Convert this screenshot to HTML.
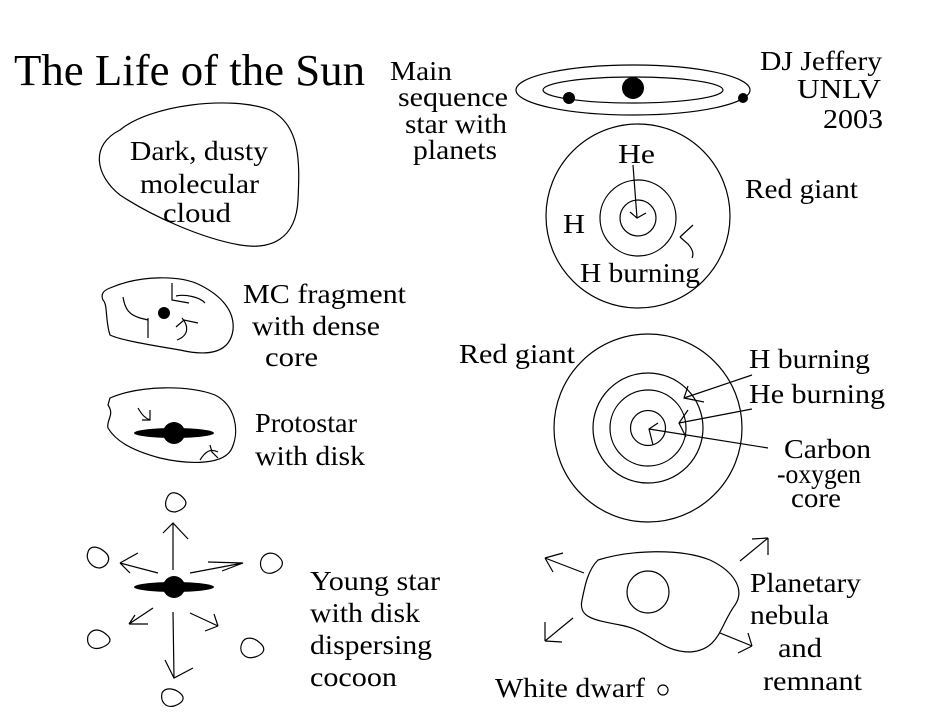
<!DOCTYPE html>
<html><head><meta charset="utf-8"><style>
html,body{margin:0;padding:0;background:#fff;}
svg{display:block;}
text{font-family:"Liberation Serif",serif;font-size:27px;fill:#000;}
</style></head><body>
<svg width="950" height="728" viewBox="0 0 950 728" xmlns="http://www.w3.org/2000/svg">
<g fill="none" stroke="#000" stroke-width="1.2">
<ellipse cx="633" cy="90" rx="117" ry="25"/>
<ellipse cx="633" cy="90" rx="90" ry="13"/>
<circle cx="638" cy="216" r="92"/>
<circle cx="638" cy="218" r="38"/>
<circle cx="638" cy="218" r="18"/>
<path d="M633 165 L637 218 M630 212 L637 218 L646 213"/>
<path d="M693 225 L680 237 M680 237 L688 244 Q695 252 692 258"/>
<circle cx="648" cy="428" r="94"/>
<circle cx="648" cy="428" r="55"/>
<circle cx="648" cy="428" r="38"/>
<circle cx="648" cy="428" r="17.5"/>
<path d="M752 375 L684 398 M688 386 L684 398 L704 402"/>
<path d="M752 409 L679 423 M688 410 L679 423 L686 437"/>
<path d="M768 448 L649 429 M658 423 L649 429 L653 445"/>
<path d="M120 130 C150 105 230 95 270 110 C300 125 300 160 298 200 C296 240 270 250 240 245 C200 238 150 215 120 195 C95 175 90 145 120 130 Z"/>
<path d="M110 288 C140 275 180 275 200 285 C220 295 235 310 233 330 C230 352 210 357 180 350 C150 345 120 340 110 335 C105 320 108 305 103 300 C100 293 105 290 110 288 Z"/>
<path d="M123 297 C125 310 130 315 140 318 L148 320 M148 318 L148 338"/>
<path d="M172 283 L172 300 L189 303 M176 296 C185 294 200 297 205 303"/>
<path d="M182 318 C188 325 190 335 177 340 M176 327 L184 320 L198 323"/>
<path d="M110 398 C140 385 190 385 215 395 C235 405 240 430 232 448 C225 465 190 465 160 458 C130 450 115 440 108 428 C106 420 115 415 108 405 Z"/>
<path d="M138 408 C142 415 145 418 150 420 M142 420 L150 420 L150 410"/>
<path d="M200 460 C205 452 210 448 218 452 M210 445 L212 452 L218 458"/>
<path d="M598 560 C630 550 680 548 710 560 C735 572 745 590 735 605 C720 625 720 650 690 652 C660 652 650 630 620 625 C595 620 578 618 582 600 C585 585 588 570 598 560 Z"/>
<circle cx="648" cy="592" r="21"/>
<circle cx="663" cy="690" r="5"/>
<path d="M584 573 L545 558 M545 558 L563 553 M545 558 L553 572"/>
<path d="M573 618 L545 641 M545 641 L545 622 M545 641 L562 642"/>
<path d="M740 561 L768 538 M768 538 L752 539 M768 538 L768 555"/>
<path d="M720 633 L752 646 M752 646 L748 633 M752 646 L738 653"/>
<path d="M173 570 L173 523 M163 533 L173 523 L188 539"/>
<path d="M158 573 L120 563 M120 563 L138 553 M120 563 L130 573"/>
<path d="M190 573 L243 563 M208 562 L243 563 L222 571"/>
<path d="M153 608 L129 624 M129 624 L148 624 M129 624 L135 615"/>
<path d="M190 613 L218 626 M218 626 L214 614 M218 626 L205 631"/>
<path d="M173 612 L174 678 M165 660 L174 678 L193 668"/>
<path d="M168 496 C163 505 166 512 175 512 C183 510 188 505 185 500 C180 493 172 490 168 496 Z"/>
<path d="M88 552 C85 560 92 568 100 568 C108 566 112 558 105 552 C98 546 90 545 88 552 Z"/>
<path d="M262 558 C258 565 262 575 272 573 C282 570 285 563 280 558 C274 551 266 552 262 558 Z"/>
<path d="M88 636 C86 645 92 650 100 648 C110 645 112 640 108 636 C100 628 92 628 88 636 Z"/>
<path d="M242 643 C238 652 245 660 255 657 C265 654 266 648 260 643 C254 637 245 636 242 643 Z"/>
<path d="M162 693 C160 702 166 708 174 706 C183 703 186 698 180 693 C174 688 165 687 162 693 Z"/>
</g>
<g fill="#000">
<circle cx="633" cy="88" r="11"/>
<circle cx="569" cy="98" r="6"/>
<circle cx="743" cy="98" r="5"/>
<circle cx="164" cy="313" r="6"/>
<ellipse cx="174" cy="433" rx="40" ry="5"/>
<circle cx="174" cy="433" r="11"/>
<ellipse cx="174" cy="587" rx="40" ry="5"/>
<circle cx="174" cy="587" r="11"/>
</g>
<g>
<text x="14" y="85" style="font-size:44px" textLength="351" lengthAdjust="spacingAndGlyphs">The Life of the Sun</text>
<text x="390" y="80" textLength="62" lengthAdjust="spacingAndGlyphs">Main</text>
<text x="398" y="106" textLength="110" lengthAdjust="spacingAndGlyphs">sequence</text>
<text x="405" y="133" textLength="102" lengthAdjust="spacingAndGlyphs">star with</text>
<text x="413" y="159" textLength="84" lengthAdjust="spacingAndGlyphs">planets</text>
<text x="760" y="70" textLength="122" lengthAdjust="spacingAndGlyphs">DJ Jeffery</text>
<text x="797" y="98" textLength="84" lengthAdjust="spacingAndGlyphs">UNLV</text>
<text x="823" y="128" textLength="60" lengthAdjust="spacingAndGlyphs">2003</text>
<text x="618" y="163" textLength="37" lengthAdjust="spacingAndGlyphs">He</text>
<text x="563" y="233" textLength="22" lengthAdjust="spacingAndGlyphs">H</text>
<text x="580" y="282" textLength="120" lengthAdjust="spacingAndGlyphs">H burning</text>
<text x="745" y="198" textLength="113" lengthAdjust="spacingAndGlyphs">Red giant</text>
<text x="459" y="363" textLength="116" lengthAdjust="spacingAndGlyphs">Red giant</text>
<text x="749" y="368" textLength="121" lengthAdjust="spacingAndGlyphs">H burning</text>
<text x="749" y="403" textLength="136" lengthAdjust="spacingAndGlyphs">He burning</text>
<text x="784" y="458" textLength="87" lengthAdjust="spacingAndGlyphs">Carbon</text>
<text x="777" y="483" textLength="84" lengthAdjust="spacingAndGlyphs">-oxygen</text>
<text x="791" y="507" textLength="50" lengthAdjust="spacingAndGlyphs">core</text>
<text x="130" y="160" textLength="138" lengthAdjust="spacingAndGlyphs">Dark, dusty</text>
<text x="140" y="193" textLength="119" lengthAdjust="spacingAndGlyphs">molecular</text>
<text x="163" y="222" textLength="68" lengthAdjust="spacingAndGlyphs">cloud</text>
<text x="243" y="303" textLength="163" lengthAdjust="spacingAndGlyphs">MC fragment</text>
<text x="252" y="335" textLength="128" lengthAdjust="spacingAndGlyphs">with dense</text>
<text x="265" y="366" textLength="53" lengthAdjust="spacingAndGlyphs">core</text>
<text x="255" y="432" textLength="102" lengthAdjust="spacingAndGlyphs">Protostar</text>
<text x="255" y="465" textLength="110" lengthAdjust="spacingAndGlyphs">with disk</text>
<text x="310" y="590" textLength="130" lengthAdjust="spacingAndGlyphs">Young star</text>
<text x="310" y="622" textLength="110" lengthAdjust="spacingAndGlyphs">with disk</text>
<text x="310" y="654" textLength="122" lengthAdjust="spacingAndGlyphs">dispersing</text>
<text x="310" y="686" textLength="87" lengthAdjust="spacingAndGlyphs">cocoon</text>
<text x="750" y="592" textLength="111" lengthAdjust="spacingAndGlyphs">Planetary</text>
<text x="750" y="624" textLength="79" lengthAdjust="spacingAndGlyphs">nebula</text>
<text x="778" y="657" textLength="44" lengthAdjust="spacingAndGlyphs">and</text>
<text x="763" y="690" textLength="99" lengthAdjust="spacingAndGlyphs">remnant</text>
<text x="495" y="697" textLength="150" lengthAdjust="spacingAndGlyphs">White dwarf</text>
</g>
</svg>
</body></html>
